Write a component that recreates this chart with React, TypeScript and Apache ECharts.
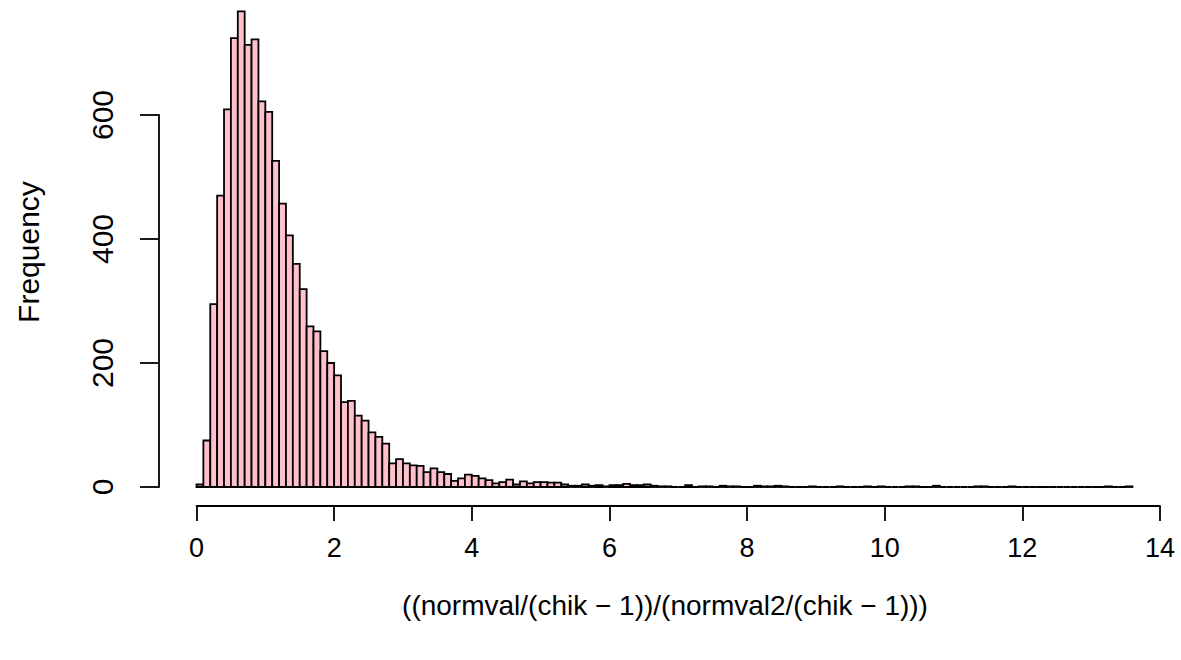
import React, { useEffect, useRef } from "react";
import * as echarts from "echarts";

// Histogram bin width and counts (bins start at 0, width 0.1)
const BIN_WIDTH = 0.1;
const counts: number[] = [
  4, 75, 295, 470, 609, 724, 767, 713, 722, 622,
  605, 526, 457, 406, 360, 319, 259, 251, 219, 200,
  180, 137, 139, 115, 107, 88, 81, 70, 38, 45,
  38, 35, 34, 24, 30, 24, 21, 10, 14, 20,
  18, 14, 11, 6, 8, 12, 4, 9, 6, 8,
  8, 7, 7, 4, 2, 2, 4, 2, 3, 1,
  3, 3, 5, 3, 3, 4, 2, 1, 1, 0,
  0, 3, 0, 1, 1, 0, 2, 1, 1, 0,
  0, 2, 1, 1, 2, 1, 0, 0, 0, 1,
  0, 0, 0, 1, 0, 0, 0, 1, 0, 1,
  0, 0, 0, 1, 1, 0, 0, 2, 0, 0,
  0, 0, 0, 1, 1, 0, 0, 0, 1, 0,
  0, 0, 0, 0, 0, 0, 0, 0, 0, 0,
  0, 0, 1, 0, 0, 1,
];
const xTicks = { min: 0, max: 14, interval: 2 };
const yTicks = { min: 0, max: 600, interval: 200 };
const xTitle = "((normval/(chik \u2212 1))/(normval2/(chik \u2212 1)))";
const yTitle = "Frequency";

export default function App() {
  const ref = useRef<HTMLDivElement>(null);
  useEffect(() => {
    if (!ref.current) return;
    const chart = echarts.init(ref.current, null, { renderer: "svg" });
    const data = counts.map((c, i) => [
      +(i * BIN_WIDTH).toFixed(1),
      +((i + 1) * BIN_WIDTH).toFixed(1),
      c,
    ]);
    const font = "Liberation Sans, Arial, Helvetica, sans-serif";
    chart.setOption({
      animation: false,
      backgroundColor: "#ffffff",
      grid: { left: 196.5, top: 115, width: 963.5, height: 372 },
      xAxis: {
        type: "value",
        min: xTicks.min,
        max: xTicks.max,
        interval: xTicks.interval,
        offset: 19,
        splitLine: { show: false },
        axisLine: { show: true, onZero: false, lineStyle: { color: "#000", width: 1.8 } },
        axisTick: { show: true, length: 15, lineStyle: { color: "#000", width: 1.8 } },
        axisLabel: { color: "#000", fontSize: 27, fontFamily: font, margin: 28 },
      },
      yAxis: {
        type: "value",
        min: yTicks.min,
        max: yTicks.max,
        interval: yTicks.interval,
        offset: 37.5,
        splitLine: { show: false },
        axisLine: { show: true, onZero: false, lineStyle: { color: "#000", width: 1.8 } },
        axisTick: { show: true, length: 19, lineStyle: { color: "#000", width: 1.8 } },
        axisLabel: { color: "#000", fontSize: 30, fontFamily: font, margin: 42, rotate: 90 },
      },
      graphic: [
        {
          type: "text",
          x: 665,
          y: 605,
          style: {
            text: xTitle,
            fontSize: 28,
            fontFamily: font,
            fill: "#000",
            textAlign: "center",
            textVerticalAlign: "middle",
          },
        },
        {
          type: "text",
          x: 28,
          y: 252,
          rotation: Math.PI / 2,
          style: {
            text: yTitle,
            fontSize: 30,
            fontFamily: font,
            fill: "#000",
            textAlign: "center",
            textVerticalAlign: "middle",
          },
        },
      ],
      series: [
        {
          type: "custom",
          clip: false,
          encode: { x: [0, 1], y: 2 },
          data,
          renderItem: (params: any, api: any) => {
            const p0 = api.coord([api.value(0), 0]);
            const p1 = api.coord([api.value(1), api.value(2)]);
            return {
              type: "rect",
              shape: {
                x: p0[0],
                y: p1[1],
                width: p1[0] - p0[0],
                height: p0[1] - p1[1],
              },
              style: { fill: "#FFC0CB", stroke: "#000", lineWidth: 1.8 },
            };
          },
        },
      ],
    });
    return () => chart.dispose();
  }, []);
  return (
    <div
      ref={ref}
      style={{ position: "fixed", left: 0, top: 0, width: 1181, height: 660 }}
    />
  );
}
